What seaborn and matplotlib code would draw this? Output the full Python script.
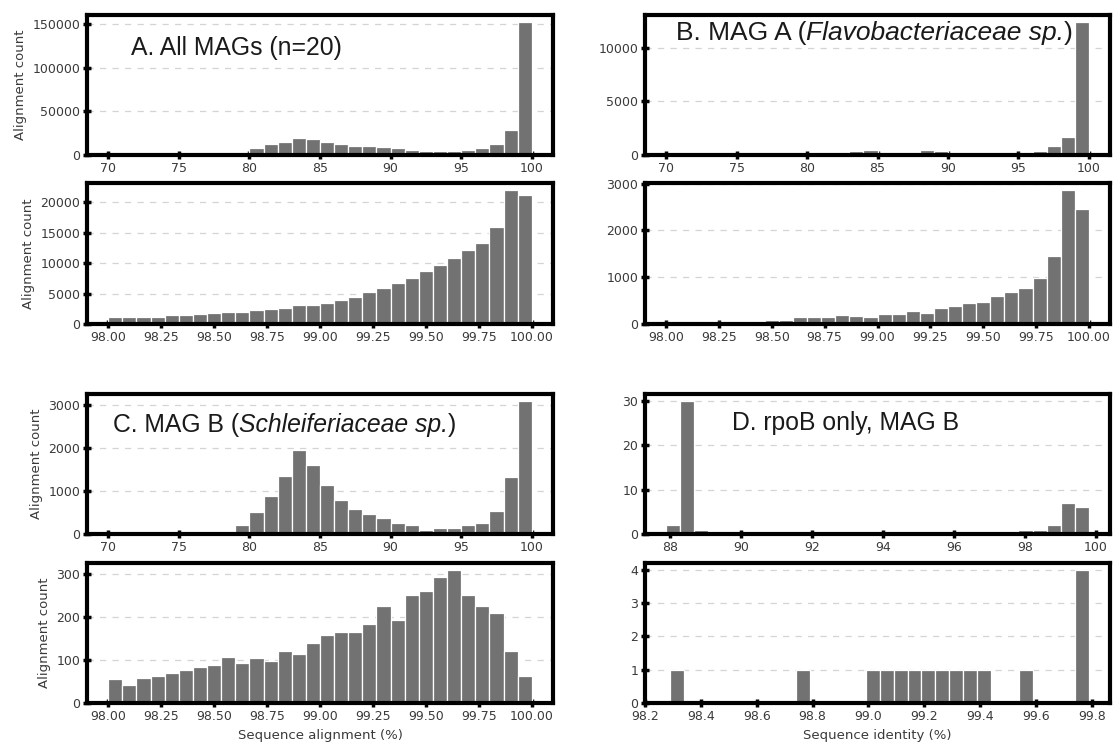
import numpy as np
import pandas as pd
import seaborn as sns
import matplotlib.pyplot as plt
from matplotlib.ticker import FormatStrFormatter

# ---------------- data (counts per histogram bin) ----------------
# Top panels: 30 bins from 70 to 100 % identity
top_lo, top_hi = 70.0, 100.0
A_top = [0, 0, 0, 0, 0, 0, 0, 0, 0,
         1800, 7500, 12500, 14500, 20000, 18300, 14800, 12400, 10600, 10100,
         9700, 7800, 5900, 4700, 4600, 4600, 5900, 7800, 12500, 28700, 152500]
B_top = [0, 0, 0, 0, 0, 0, 0, 0, 0,
         30, 60, 310, 150, 380, 440, 220, 150, 190, 440,
         345, 150, 120, 120, 120, 120, 150, 380, 850, 1700, 12450]
C_top = [0, 0, 0, 0, 0, 0, 0, 0, 0,
         200, 500, 870, 1340, 1950, 1600, 1130, 780, 570, 460,
         360, 250, 200, 95, 150, 150, 200, 265, 540, 1330, 3090]
# Second-row panels: 30 bins from 98 to 100 %
zoom_lo, zoom_hi = 98.0, 100.0
A_zoom = [1200, 1200, 1200, 1200, 1500, 1400, 1600, 1800, 1950, 1950,
          2300, 2400, 2700, 3050, 3200, 3400, 4000, 4500, 5250, 5900,
          6750, 7500, 8700, 9700, 10800, 12200, 13400, 16000, 22100, 21300]
B_zoom = [40, 50, 55, 40, 35, 45, 60, 85, 80, 150,
          150, 150, 190, 165, 160, 210, 210, 280, 245, 350,
          380, 445, 470, 590, 680, 760, 990, 1460, 2870, 2450]
C_zoom = [55, 42, 57, 63, 70, 77, 83, 88, 108, 92,
          105, 98, 120, 113, 140, 157, 165, 165, 183, 225,
          193, 250, 260, 293, 310, 252, 225, 210, 122, 62]
# rpoB panels (MAG B): 30 bins over the data range
D_top_lo, D_top_hi = 87.9, 99.8
D_top = [2, 30, 1, 0, 0, 0, 0, 0, 0, 0,
         0, 0, 0, 0, 0, 0, 0, 0, 0, 0,
         0, 0, 0, 0, 0, 1, 1, 2, 7, 6]
D_zoom_lo, D_zoom_hi = 98.29, 99.79
D_zoom = [1, 0, 0, 0, 0, 0, 0, 0, 0, 1,
          0, 0, 0, 0, 1, 1, 1, 1, 1, 1,
          1, 1, 1, 0, 0, 1, 0, 0, 0, 4]

# title pieces: (text, font style)
titles = {
    "A": [("A. All MAGs (n=20)", "normal")],
    "B": [("B. MAG A (", "normal"), ("Flavobacteriaceae sp.", "italic"),
          (")", "normal")],
    "C": [("C. MAG B (", "normal"), ("Schleiferiaceae sp.", "italic"),
          (")", "normal")],
    "D": [("D. rpoB only, MAG B", "normal")],
}
ylabel = "Alignment count"
xlabel_left = "Sequence alignment (%)"
xlabel_right = "Sequence identity (%)"

top_xticks = [70, 75, 80, 85, 90, 95, 100]
zoom_xticks = [98.0, 98.25, 98.5, 98.75, 99.0, 99.25, 99.5, 99.75, 100.0]
D_top_xticks = [88, 90, 92, 94, 96, 98, 100]
D_zoom_xticks = [98.2, 98.4, 98.6, 98.8, 99.0, 99.2, 99.4, 99.6, 99.8]

# ---------------- style ----------------
sns.set_style("white")
plt.rcParams['font.family'] = ['DejaVu Sans']

BAR = '#727272'
TXT = '#3a3a3a'

fig = plt.figure(figsize=(11.13, 7.42), dpi=100)

W, H = 1113.0, 742.0
def rect(x0, x1, y0, y1):
    return [x0 / W, (H - y1) / H, (x1 - x0) / W, (y1 - y0) / H]

LX = (87, 553)
RX = (645, 1110)
R1 = (15, 155)
R2 = (183, 324)
R3 = (394, 534)
R4 = (563, 703)


def rich_title(ax, x, y, parts, size):
    kw = dict(fontsize=size, family='Liberation Sans', color='#1a1a1a')
    s, st = parts[0]
    t = ax.text(x, y, s, transform=ax.transAxes, style=st,
                ha='left', va='bottom', **kw)
    for s, st in parts[1:]:
        t = ax.annotate(s, xy=(1, 0), xycoords=t, style=st,
                        ha='left', va='bottom', **kw)


def panel(pos, lo, hi, counts, xticks, yticks, xfmt, ylab=None, xlab=None,
          title=None, tpos=None, tsize=17.8):
    ax = fig.add_axes(pos)
    n = len(counts)
    width = (hi - lo) / n
    centers = [lo + (i + 0.5) * width for i in range(n)]
    df = pd.DataFrame({"identity": centers, "count": counts})
    sns.histplot(data=df, x="identity", weights="count", bins=n,
                 binrange=(lo, hi), ax=ax,
                 color=BAR, edgecolor='white', linewidth=0.9, alpha=1.0)
    ax.set_xticks(xticks)
    ax.set_yticks(yticks)
    ax.xaxis.set_major_formatter(FormatStrFormatter(xfmt))
    ax.set_axisbelow(True)
    ax.grid(axis='y', linestyle=(0, (5, 5)), color='#d4d4d4', linewidth=0.9)
    ax.grid(axis='x', visible=False)
    for s in ax.spines.values():
        s.set_visible(True)
        s.set_color('black')
        s.set_linewidth(3)
    ax.tick_params(axis='both', which='major', direction='inout', length=6,
                   width=2.5, color='black', labelsize=9, labelcolor=TXT,
                   pad=2, bottom=True, left=True)
    ax.set_ylabel(ylab if ylab else '', fontsize=9.5, color=TXT)
    ax.set_xlabel(xlab if xlab else '', fontsize=9.5, color=TXT)
    if title:
        rich_title(ax, tpos[0], tpos[1], title, tsize)
    return ax


# title positions: lower-left corner of the text box, axes fraction
panel(rect(*LX, *R1), top_lo, top_hi, A_top, top_xticks,
      [0, 50000, 100000, 150000], '%d', ylab=ylabel,
      title=titles["A"], tpos=(0.095, 0.68))
panel(rect(*LX, *R2), zoom_lo, zoom_hi, A_zoom, zoom_xticks,
      [0, 5000, 10000, 15000, 20000], '%.2f', ylab=ylabel)
panel(rect(*RX, *R1), top_lo, top_hi, B_top, top_xticks,
      [0, 5000, 10000], '%d',
      title=titles["B"], tpos=(0.066, 0.785), tsize=19)
panel(rect(*RX, *R2), zoom_lo, zoom_hi, B_zoom, zoom_xticks,
      [0, 1000, 2000, 3000], '%.2f')
panel(rect(*LX, *R3), top_lo, top_hi, C_top, top_xticks,
      [0, 1000, 2000, 3000], '%d', ylab=ylabel,
      title=titles["C"], tpos=(0.055, 0.695))
panel(rect(*LX, *R4), zoom_lo, zoom_hi, C_zoom, zoom_xticks,
      [0, 100, 200, 300], '%.2f', ylab=ylabel, xlab=xlabel_left)
panel(rect(*RX, *R3), D_top_lo, D_top_hi, D_top, D_top_xticks,
      [0, 10, 20, 30], '%d',
      title=titles["D"], tpos=(0.187, 0.705))
panel(rect(*RX, *R4), D_zoom_lo, D_zoom_hi, D_zoom, D_zoom_xticks,
      [0, 1, 2, 3, 4], '%.1f', xlab=xlabel_right)

fig.savefig("out.png", dpi=100)
